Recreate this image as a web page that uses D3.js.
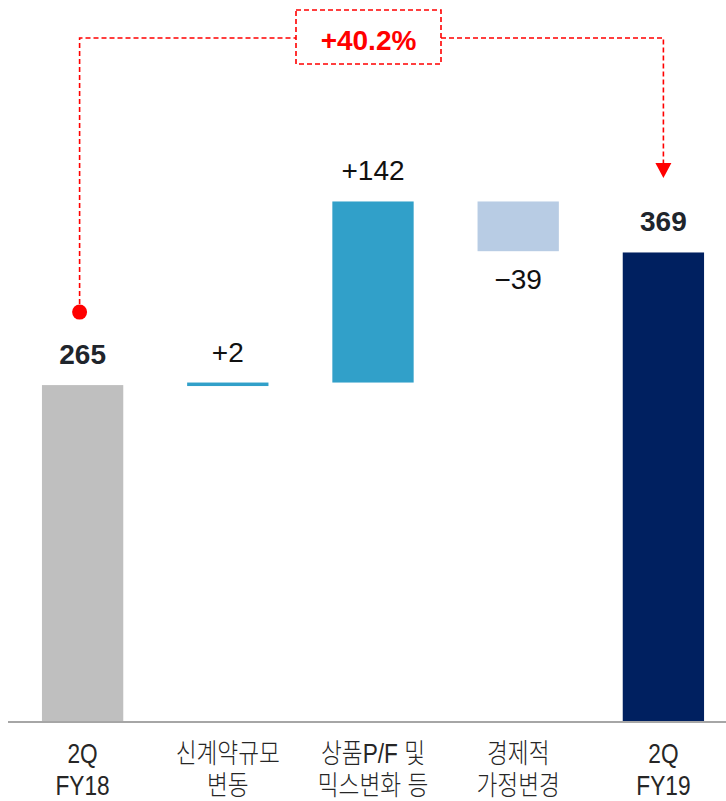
<!DOCTYPE html>
<html>
<head>
<meta charset="utf-8">
<script src="https://cdn.jsdelivr.net/npm/d3@7"></script>
<style>
  body { margin: 0; background: #fff; }
  svg { display: block; }
</style>
</head>
<body>
<script>
// 워터폴 차트 데이터
var categories = ["2Q FY18", "신계약규모 변동", "상품P/F 및 믹스변화 등", "경제적 가정변경", "2Q FY19"];
var labelLines = [["2Q", "FY18"], ["신계약규모", "변동"], ["상품P/F 및", "믹스변화 등"], ["경제적", "가정변경"], ["2Q", "FY19"]];
var values = [265, 2, 142, -39, 369];
var kinds = ["total", "delta", "delta", "delta", "total"];
var valueLabels = ["265", "+2", "+142", "\u221239", "369"];
var colors = ["#bfbfbf", "#31a0c9", "#31a0c9", "#b8cce4", "#002060"];
var growthLabel = "+40.2%";

var width = 726, height = 801;
var svg = d3.select("body").append("svg").attr("width", width).attr("height", height);

var x = d3.scaleBand().domain(categories).range([10, 736]).paddingInner(0.44).paddingOuter(0.22);
var y = d3.scaleLinear().domain([0, 567]).range([723, 0]);

// 시작/끝 값 계산
var run = 0;
var bars = values.map(function(v, i) {
  var b;
  if (kinds[i] === "total") { b = { y0: 0, y1: v }; run = v; }
  else { b = { y0: run, y1: run + v }; run += v; }
  b.cat = categories[i]; b.v = v; b.i = i;
  return b;
});

svg.append("g").selectAll("rect").data(bars).enter().append("rect")
  .attr("x", function(d) { return x(d.cat); })
  .attr("width", x.bandwidth())
  .attr("y", function(d) { return y(Math.max(d.y0, d.y1)); })
  .attr("height", function(d) { return Math.max(3.5, Math.abs(y(d.y0) - y(d.y1))); })
  .attr("fill", function(d, i) { return colors[i]; });

// 기준선
svg.append("line").attr("x1", 8).attr("x2", 726).attr("y1", 722).attr("y2", 722)
  .attr("stroke", "#a6a6a6").attr("stroke-width", 2);

// 값 라벨
svg.append("g").selectAll("text").data(bars).enter().append("text")
  .attr("x", function(d) { return x(d.cat) + x.bandwidth() / 2; })
  .attr("y", function(d) {
    if (d.v < 0) return y(Math.min(d.y0, d.y1)) + 38;
    return y(Math.max(d.y0, d.y1)) - 21;
  })
  .attr("text-anchor", "middle")
  .style("font-family", "'Liberation Sans', Arial, sans-serif")
  .style("font-size", "28px")
  .style("font-weight", function(d, i) { return kinds[i] === "total" ? "bold" : "normal"; })
  .attr("fill", function(d, i) { return kinds[i] === "total" ? "#1f252c" : "#111"; })
  .text(function(d, i) { return valueLabels[i]; });

// x축 라벨
var lab = svg.append("g").selectAll("g").data(categories).enter().append("g")
  .attr("transform", function(d) { return "translate(" + (x(d) + x.bandwidth() / 2) + ",0) scale(0.84,1)"; });
lab.selectAll("text").data(function(d, i) { return labelLines[i]; }).enter().append("text")
  .attr("x", 0)
  .attr("y", function(d, j) { return 763 + j * 32; })
  .attr("text-anchor", "middle")
  .style("font-family", "'Liberation Sans', 'Noto Sans CJK KR', sans-serif")
  .style("font-size", "27px")
  .style("font-weight", 300)
  .attr("fill", "#262626")
  .text(function(d) { return d; });

// 성장률 주석
var xl = x(categories[0]) + x.bandwidth() / 2 - 3,
    xr = x(categories[4]) + x.bandwidth() / 2,
    topY = 38;
var red = "#ff0000";
var boxL = 296, boxR = 441;
var dash = "5,3";

svg.append("path")
  .attr("d", "M" + xl + "," + (y(values[0]) - 73) + "V" + topY + "H" + boxL)
  .attr("fill", "none").attr("stroke", red).attr("stroke-width", 1.6).attr("stroke-dasharray", dash);
svg.append("path")
  .attr("d", "M" + boxR + "," + topY + "H" + xr + "V" + 166)
  .attr("fill", "none").attr("stroke", red).attr("stroke-width", 1.6).attr("stroke-dasharray", dash);
svg.append("circle").attr("cx", xl).attr("cy", y(values[0]) - 73).attr("r", 7.5).attr("fill", red);
svg.append("path")
  .attr("d", "M" + (xr - 8) + ",163L" + (xr + 8) + ",163L" + xr + ",178Z")
  .attr("fill", red);

svg.append("rect").attr("x", boxL).attr("y", 10).attr("width", boxR - boxL).attr("height", 54)
  .attr("fill", "#fff").attr("stroke", red).attr("stroke-width", 1.6).attr("stroke-dasharray", dash);
svg.append("text")
  .attr("x", (boxL + boxR) / 2).attr("y", 50)
  .attr("text-anchor", "middle")
  .style("font-family", "'Liberation Sans', Arial, sans-serif")
  .style("font-size", "28px").style("font-weight", "bold")
  .attr("fill", red)
  .text(growthLabel);
</script>
</body>
</html>
